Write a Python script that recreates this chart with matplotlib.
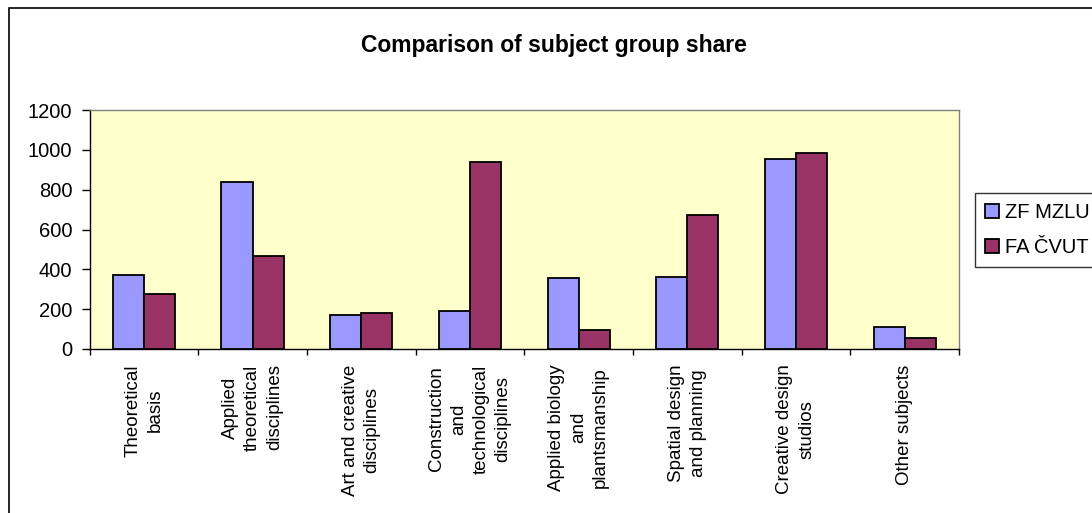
import numpy as np
import matplotlib
matplotlib.use("Agg")
import matplotlib.pyplot as plt
from matplotlib.patches import Rectangle

plt.rcParams["font.family"] = ["Liberation Sans", "DejaVu Sans"]

# data
categories = [
    "Theoretical\nbasis",
    "Applied\ntheoretical\ndisciplines",
    "Art and creative\ndisciplines",
    "Construction\nand\ntechnological\ndisciplines",
    "Applied biology\nand\nplantsmanship",
    "Spatial design\nand planning",
    "Creative design\nstudios",
    "Other subjects",
]
zf_mzlu = [370, 838, 172, 191, 355, 363, 956, 112]
fa_cvut = [276, 467, 182, 940, 95, 671, 982, 54]
series_names = ["ZF MZLU", "FA ČVUT"]
yticks = [0, 200, 400, 600, 800, 1000, 1200]

W, H = 1092, 513
fig = plt.figure(figsize=(W / 100, H / 100), dpi=100)
ax = fig.add_axes([89.5 / W, 1 - 349 / H, (959 - 89.5) / W, (349 - 110) / H])
ax.set_facecolor("#FFFFCC")

x = np.arange(len(categories))
w = 1 / 3.5
ax.bar(x - w / 2, zf_mzlu, w, color="#9999FF", edgecolor="black", lw=1.3,
       label=series_names[0], zorder=3)
ax.bar(x + w / 2, fa_cvut, w, color="#993366", edgecolor="black", lw=1.3,
       label=series_names[1], zorder=3)

ax.set_xlim(-0.5, len(categories) - 0.5)
ax.set_ylim(0, 1200)
ax.set_yticks(yticks)
ax.tick_params(axis="y", direction="out", length=5.5, width=1, pad=7,
               labelsize=14.5, colors="black")

# boundary ticks, labels at category centres
ax.set_xticks(np.arange(-0.5, len(categories)))
ax.set_xticklabels([])
ax.tick_params(axis="x", which="major", direction="out", length=4.5, width=1)
ax.set_xticks(x, minor=True)
ax.set_xticklabels(categories, minor=True, rotation=90, fontsize=13.5,
                   va="top", ha="center", multialignment="center",
                   linespacing=1.38)
ax.tick_params(axis="x", which="minor", length=0, pad=11)

for s in ["left", "bottom"]:
    ax.spines[s].set_color("black")
    ax.spines[s].set_linewidth(1)
for s in ["top", "right"]:
    ax.spines[s].set_color("#808080")
    ax.spines[s].set_linewidth(1)

fig.text(554 / W, 1 - 52 / H, "Comparison of subject group share",
         ha="center", va="baseline", fontsize=16.5, fontweight="bold")

leg = fig.legend(loc="upper left", bbox_to_anchor=(975 / W, 1 - 193 / H),
                 fontsize=14.5, frameon=True, fancybox=False, borderpad=0.5,
                 handlelength=0.7, handleheight=0.7, handletextpad=0.3,
                 labelspacing=0.8, borderaxespad=0)
leg.get_frame().set_edgecolor("black")
leg.get_frame().set_linewidth(1)

# outer chart frame, runs off the right and bottom edges
fig.patches.append(Rectangle((8.5 / W, -0.1), 1.2, 1.1 - 8.5 / H,
                             transform=fig.transFigure, fill=False,
                             edgecolor="black", lw=1.2))

fig.savefig("out.png", dpi=100)
